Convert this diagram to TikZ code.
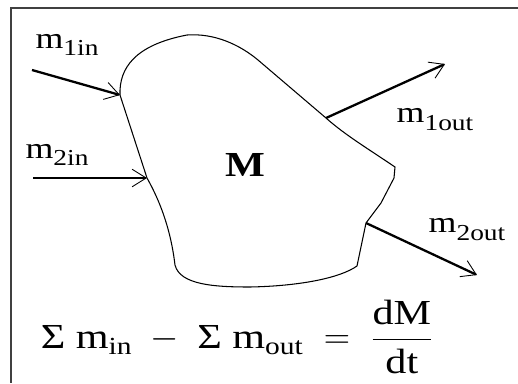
\documentclass[tikz,border=0pt]{standalone}
\usepackage{amsmath}
\usepackage{fontspec}
\setmainfont{Liberation Serif}[FakeStretch=1.2]
\usepackage{tikz}
\usetikzlibrary{arrows.meta}
\usetikzlibrary{positioning}

% mass flow label: m with a lowered index
\newcommand{\massflow}[1]{m\raisebox{-4.5pt}{\fontsize{13}{13}\selectfont #1}}
% upright text inside the fraction
\newcommand{\fracpart}[1]{\text{\fontsize{20}{21}\selectfont #1}}

\begin{document}
\begin{tikzpicture}[x=0.02cm,y=-0.02cm]
	 \tikzstyle{frame}=[draw,line width=1.2pt,black!75]
	 \tikzstyle{volume}=[draw,line width=0.6pt,black]
	 \tikzstyle{flow}=[draw,line width=1.3pt,black,-{Straight Barb[length=8pt,width=10pt,line width=0.5pt]}]
	 \tikzstyle{lbl}=[inner sep=0pt,font=\fontsize{17}{20}\selectfont]
	 \useasboundingbox (0,0) rectangle (518,383);

	 % frame, cut off at the right and at the bottom
	 \draw[frame] (518,8) -- (11,8) -- (11,383);

	 % points on the boundary of the control volume
	 \coordinate (in1) at (120,95);
	 \coordinate (in2) at (147,178);
	 \coordinate (out1) at (326,118);
	 \coordinate (out2) at (366,223);

	 \draw[volume] (in1) .. controls (119,68) and (135,45) .. (187,35)
		.. controls (215,33) and (240,45) .. (258,60)
		-- (out1)
		.. controls (345,135) and (370,150) .. (395,167)
		-- (394,178) -- (381,203) -- (out2)
		-- (357,266)
		.. controls (340,278) and (300,286) .. (250,287)
		.. controls (215,287) and (180,285) .. (175,265)
		.. controls (172,240) and (165,210) .. (in2)
		-- cycle;

	 \node[font=\fontsize{20}{24}\selectfont\bfseries] (mass) at (245,165) {M};

	 % free ends of the flows
	 \coordinate (src1) at (32,70);
	 \coordinate (src2) at (33,178);
	 \coordinate (dst1) at (445,64);
	 \coordinate (dst2) at (477,275);

	 \draw[flow] (src1) -- (in1);
	 \draw[flow] (src2) -- (in2);
	 \draw[flow] (out1) -- (dst1);
	 \draw[flow] (out2) -- (dst2);

	 \node[lbl] (l1in) at (67,45) {\massflow{1in}};
	 \node[lbl] (l2in) at (57,155) {\massflow{2in}};
	 \node[lbl] (l1out) at (435,120) {\massflow{1out}};
	 \node[lbl] (l2out) at (467,230) {\massflow{2out}};

	 \node[font=\fontsize{20}{24}\selectfont] (balance) at (237,337)
		{$\text{Σ m}_{\text{in}} \;-\; \text{Σ m}_{\text{out}} \;=\; \dfrac{\fracpart{dM}}{\fracpart{dt}}$};

 \end{tikzpicture}
\end{document}
